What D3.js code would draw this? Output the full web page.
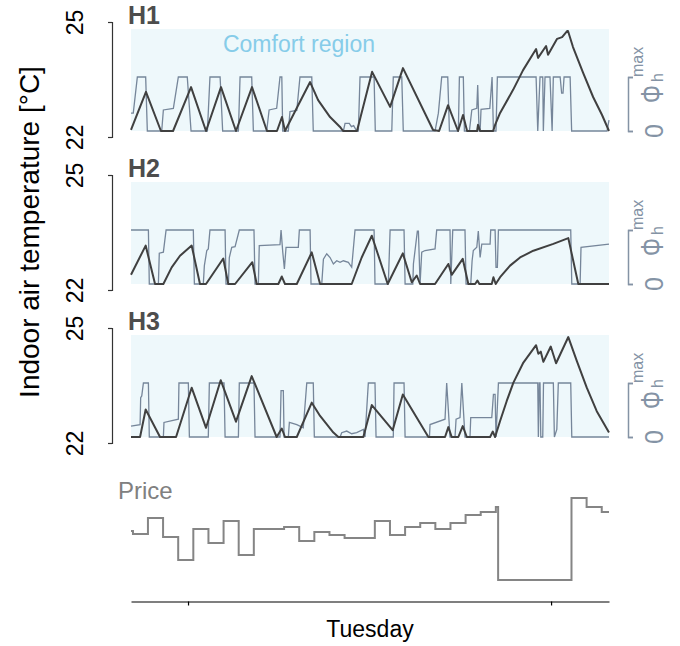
<!DOCTYPE html>
<html>
<head>
<meta charset="utf-8">
<script src="https://d3js.org/d3.v7.min.js"></script>
<style>
  body { margin: 0; background: #fff; }
  text { font-family: "Liberation Sans", Arial, Helvetica, sans-serif; }
</style>
</head>
<body>
<div id="chart"></div>
<script>
// time in hours relative to Tuesday 00:00, temperature in degC, heating as share of max
const timeDomain = [-3.77, 27.83];
const dayTicks = [0, 24];
const dayLabel = "Tuesday";
const tempTicks = [22, 25];
const comfort = [22, 25];
const houses = ["H1", "H2", "H3"];

const tempH1 = [[-3.77,22.03],[-2.78,23.15],[-1.79,22],[-0.99,22],[0.2,23.29],[1.19,22],[2.18,23.29],[3.17,22],[4.23,23.29],[5.22,22],[5.88,22],[6.21,22.41],[6.41,22],[8.07,23.44],[8.6,22.91],[9.39,22.41],[10.05,22.12],[10.25,22],[11.17,22],[12.17,23.74],[13.36,22.71],[14.21,23.85],[16.2,22.03],[16.6,22],[17.19,22.76],[17.85,22],[18.18,22.47],[18.45,22],[19.11,22],[19.17,22.18],[19.31,22],[20.17,22],[20.3,22.18],[20.63,22.53],[21.49,23.21],[22.15,23.79],[23.01,24.41],[23.14,24.15],[23.67,24.5],[23.8,24.24],[24.4,24.71],[24.73,24.76],[25.06,24.94],[25.12,24.94],[25.45,24.47],[26.12,23.71],[26.78,23.0],[27.37,22.47],[27.83,22]];
const heatH1 = [[-3.77,0.33],[-3.62,0.33],[-3.35,1],[-2.8,1],[-2.69,0],[-1.74,0],[-1.63,0.39],[-0.97,0.42],[-0.64,1],[-0.05,1],[0.2,0],[1.28,0],[1.45,1],[2.12,1],[2.29,0],[3.33,0],[3.44,1],[4.21,1],[4.32,0],[5.2,0],[5.36,0.39],[5.86,0.42],[6.08,1],[6.2,1],[6.26,0],[6.63,0],[6.74,0.36],[7.19,0.38],[7.4,1],[8.18,1],[8.28,0],[10.27,0],[10.38,0.14],[10.66,0.14],[10.8,0.08],[10.95,0.1],[11.15,0],[11.26,0],[11.37,1],[12.3,1],[12.38,0],[13.47,0],[13.57,1],[14.13,1],[14.23,0],[16.33,0],[16.55,0.33],[16.77,1],[17.17,1],[17.28,0],[17.87,0],[17.94,1],[18.2,1],[18.27,0],[18.6,0],[18.76,0.39],[19.09,0.42],[19.15,0.85],[19.24,0],[19.31,0],[19.37,0.4],[19.95,0.42],[20.1,1],[20.19,0],[20.36,0],[20.45,1],[23.01,1],[23.12,0],[23.27,1],[23.45,1],[23.49,0],[23.6,1],[23.93,1],[24.07,0],[24.15,1],[24.6,1],[24.7,0.7],[24.79,0.7],[24.86,1],[25.26,1],[25.36,0],[27.7,0],[27.83,0.2]];

const tempH2 = [[-3.77,22.27],[-2.8,23.13],[-2.18,22],[-1.63,22],[-1.08,22.49],[-0.53,22.83],[0.24,23.13],[0.79,22],[1.19,22],[2.33,22.75],[2.66,22],[3.11,22],[4.25,22.64],[4.54,22],[5.97,22],[6.2,22.22],[6.41,22],[7.19,22],[8.18,22.93],[8.73,22],[10.82,22],[11.48,22.78],[12.15,23.42],[13.2,22],[14.2,22.9],[14.79,22.05],[15.12,22.25],[15.34,22],[16.33,22],[17.21,22.59],[17.43,22.27],[18.16,22.74],[18.53,22],[18.98,22],[19.13,22.1],[19.26,22],[20.08,22],[20.19,22.2],[20.34,22],[20.63,22.2],[21.29,22.54],[21.95,22.78],[22.83,22.98],[24.15,23.18],[25.14,23.35],[25.8,22],[27.83,22]];
const heatH2 = [[-3.77,1],[-2.62,1],[-2.56,0],[-1.96,0],[-1.9,0.57],[-1.63,0.59],[-1.45,1],[0.35,1],[0.42,0],[1.01,0],[1.08,0.34],[1.24,0.62],[1.34,0.65],[1.45,1],[2.45,1],[2.51,0],[2.67,0],[2.73,0.49],[2.89,0.68],[3.11,0.69],[3.39,1],[4.36,1],[4.43,0],[4.65,0],[4.71,0.71],[6.08,0.73],[6.15,1],[6.26,0.6],[6.37,0.28],[6.48,0.68],[7.29,0.68],[7.36,1],[8.07,1],[8.13,0],[8.84,0],[8.95,0.46],[9.17,0.56],[9.39,0.49],[9.61,0.37],[9.83,0.43],[10.05,0.4],[10.27,0.43],[10.6,0.4],[10.82,0.31],[11.04,1],[12.3,1],[12.36,0],[13.24,0],[13.36,1],[14.28,1],[14.35,0],[14.86,0],[14.9,0.37],[15.16,0.98],[15.23,0.98],[15.34,0],[15.45,0.59],[15.67,0.62],[16.33,0.65],[16.44,1],[17.32,1],[17.37,0],[17.5,1],[18.31,1],[18.38,0],[18.69,0],[18.78,0.43],[18.86,0.62],[19.09,0.68],[19.19,0.98],[19.31,0.49],[19.42,0.74],[19.97,0.74],[20.01,1],[20.3,1],[20.36,0.31],[20.45,0.31],[20.52,1],[25.3,1],[25.37,0],[25.92,0],[25.98,0.68],[27.83,0.74]];

const tempH3 = [[-3.77,22],[-3.17,22],[-2.8,22.81],[-1.85,22],[-0.79,22],[0.24,23.45],[1.19,22.27],[2.16,23.67],[3.17,22.45],[4.21,23.79],[5.86,22],[6.2,22.25],[6.41,22],[7.19,22],[8.18,23.01],[8.73,22.62],[9.61,22.13],[9.94,22],[11.59,22],[12.15,22.94],[13.53,22.2],[14.2,23.25],[15.89,22],[16.99,22],[17.21,22.29],[17.43,22],[17.87,22],[18.16,22.32],[18.43,22],[19.97,22],[20.15,22.16],[20.3,22],[20.63,22.47],[21.07,23.06],[21.51,23.6],[22.17,24.19],[23.01,24.7],[23.16,24.45],[23.32,24.51],[23.49,24.21],[23.98,24.66],[24.33,24.17],[25.14,24.94],[25.7,24.24],[26.36,23.45],[27.02,22.76],[27.83,22.13]];
const heatH3 = [[-3.77,0.2],[-3.17,0.23],[-3.13,0.73],[-3.06,0.76],[-2.95,1],[-2.62,1],[-2.56,0],[-1.63,0],[-1.59,0.27],[-0.64,0.33],[-0.6,1],[0.02,1],[0.09,0],[1.34,0],[1.41,1],[2.38,1],[2.45,0],[3.33,0],[3.39,1],[4.36,1],[4.43,0],[6.08,0],[6.15,0.86],[6.3,0.86],[6.35,0],[6.63,0],[6.7,0.27],[7.19,0.23],[7.62,0.17],[7.85,1],[8.28,1],[8.35,0],[10.05,0],[10.16,0.08],[10.49,0.11],[10.82,0.06],[11.15,0.08],[11.59,0.14],[11.7,0],[11.92,1],[12.36,1],[12.43,0],[13.57,0],[13.62,1],[14.28,1],[14.35,0],[15.96,0],[16.0,0.23],[16.99,0.33],[17.1,1],[17.32,0],[17.65,0],[17.72,0.33],[17.98,0.36],[18.1,1],[18.31,0],[18.64,0],[18.69,0.36],[20.08,0.36],[20.19,0.79],[20.3,0.79],[20.36,0],[20.52,1],[23.12,1],[23.16,0],[23.22,1],[23.27,1],[23.32,0],[23.45,0],[23.5,1],[24.15,1],[24.22,0],[24.38,0.14],[24.48,1],[25.3,1],[25.37,0],[27.83,0]];

const priceTimes = [-3.77,-3.64,-2.65,-1.65,-0.65,0.35,1.35,2.35,3.35,4.35,6.35,7.35,8.35,9.35,10.35,12.35,13.35,14.35,15.35,16.35,17.35,18.35,19.35,20.35,20.5,25.35,26.35,27.35];
const priceValues = [57.5,55,68.3,52.5,33.3,59.2,47.5,65.8,37.5,59.2,60.8,49.2,56.7,54.2,51.7,65.8,54.2,60.8,64.2,59.2,64.2,70.8,73.3,77.5,16.7,85,77.5,73.3];

const temps = [tempH1, tempH2, tempH3];
const heats = [heatH1, heatH2, heatH3];

const svg = d3.select("#chart").append("svg").attr("width", 680).attr("height", 646);

const x = d3.scaleLinear().domain(timeDomain).range([131, 609]);

const tempColor = "#404040", heatColor = "#76869a", axisBlue = "#8493a5";

houses.forEach((name, i) => {
  const top = 22 + 153 * i;
  const yTemp = d3.scaleLinear().domain(comfort).range([top + 109, top + 7]);
  const yFrame = yTemp.copy().range([top + 115, top]);
  const yHeat = d3.scaleLinear().domain([0, 1]).range([top + 109, top + 55]);

  const g = svg.append("g");

  // comfort band
  g.append("rect")
    .attr("x", x(timeDomain[0])).attr("width", x(timeDomain[1]) - x(timeDomain[0]))
    .attr("y", yTemp(comfort[1])).attr("height", yTemp(comfort[0]) - yTemp(comfort[1]))
    .attr("fill", "#eef8fb");

  if (i === 0) {
    g.append("text").attr("x", 299).attr("y", top + 30)
      .attr("text-anchor", "middle").attr("font-size", 23).attr("fill", "#86cce9")
      .text("Comfort region");
  }

  const heatLine = d3.line().x(d => x(d[0])).y(d => yHeat(d[1]));
  g.append("path").datum(heats[i])
    .attr("fill", "none").attr("stroke", heatColor).attr("stroke-width", 1.3)
    .attr("d", heatLine);

  const tempLine = d3.line().x(d => x(d[0])).y(d => yTemp(d[1]));
  g.append("path").datum(temps[i])
    .attr("fill", "none").attr("stroke", tempColor).attr("stroke-width", 2)
    .attr("stroke-linejoin", "round")
    .attr("d", tempLine);

  g.append("text").attr("x", 128).attr("y", top + 2)
    .attr("font-size", 25).attr("font-weight", "bold").attr("fill", "#4d4d4d")
    .text(name);

  // left temperature bracket
  const la = g.append("g").attr("transform", "translate(112,0)")
    .call(d3.axisLeft(yFrame).tickValues(tempTicks).tickSize(4).tickSizeOuter(4).tickFormat(d3.format("d")))
    .attr("font-size", null).attr("font-family", null);
  la.selectAll("path, line").attr("stroke", "#333").attr("stroke-width", 1.2);
  la.selectAll(".tick text")
    .attr("x", 0).attr("dy", 0).attr("text-anchor", "middle")
    .attr("transform", "translate(-29,0) rotate(-90)")
    .attr("font-size", 23).attr("fill", "#000");

  // right heating bracket
  const ra = g.append("g").attr("transform", "translate(628,0)")
    .call(d3.axisRight(yHeat).tickValues([0, 1]).tickSize(5).tickSizeOuter(5).tickFormat(""))
    .attr("font-size", null).attr("font-family", null);
  ra.selectAll("path, line").attr("stroke", axisBlue).attr("stroke-width", 1.5);

  g.append("text").attr("transform", `translate(663,${yHeat(0)}) rotate(-90)`)
    .attr("text-anchor", "middle").attr("font-size", 25).attr("fill", axisBlue).text("0");
  const phi = g.append("g").attr("transform", `translate(663,${yHeat(1)}) rotate(-90)`)
    .attr("fill", axisBlue);
  phi.append("text").attr("transform", "translate(-26,0) scale(0.7,1)").attr("font-size", 32).text("Φ");
  phi.append("text").attr("x", -5).attr("y", 0).attr("font-size", 16).text("h");
  phi.append("text").attr("x", 0).attr("y", -20).attr("font-size", 16).text("max");
});

svg.append("text")
  .attr("transform", "translate(39,232) rotate(-90)")
  .attr("text-anchor", "middle").attr("font-size", 28).attr("fill", "#000")
  .text("Indoor air temperature [°C]");

// price panel
const yPrice = d3.scaleLinear().domain([0, 100]).range([600, 480]);
const priceData = priceTimes.map((t, k) => [t, priceValues[k]]);
priceData.push([timeDomain[1], priceValues[priceValues.length - 1]]);

svg.append("path").datum(priceData)
  .attr("fill", "none").attr("stroke", "#858585").attr("stroke-width", 2)
  .attr("d", d3.line().curve(d3.curveStepAfter).x(d => x(d[0])).y(d => yPrice(d[1])));

svg.append("text").attr("x", 118).attr("y", 499)
  .attr("font-size", 24).attr("fill", "#808080").text("Price");

const xa = svg.append("g").attr("transform", "translate(0,601.5)")
  .call(d3.axisBottom(x).tickValues(dayTicks).tickSize(4).tickSizeOuter(0).tickFormat(""));
xa.selectAll("path, line").attr("stroke", "#000").attr("stroke-width", 1.2);

svg.append("text").attr("x", 370).attr("y", 637)
  .attr("text-anchor", "middle").attr("font-size", 23).attr("fill", "#000")
  .text(dayLabel);
</script>
</body>
</html>
